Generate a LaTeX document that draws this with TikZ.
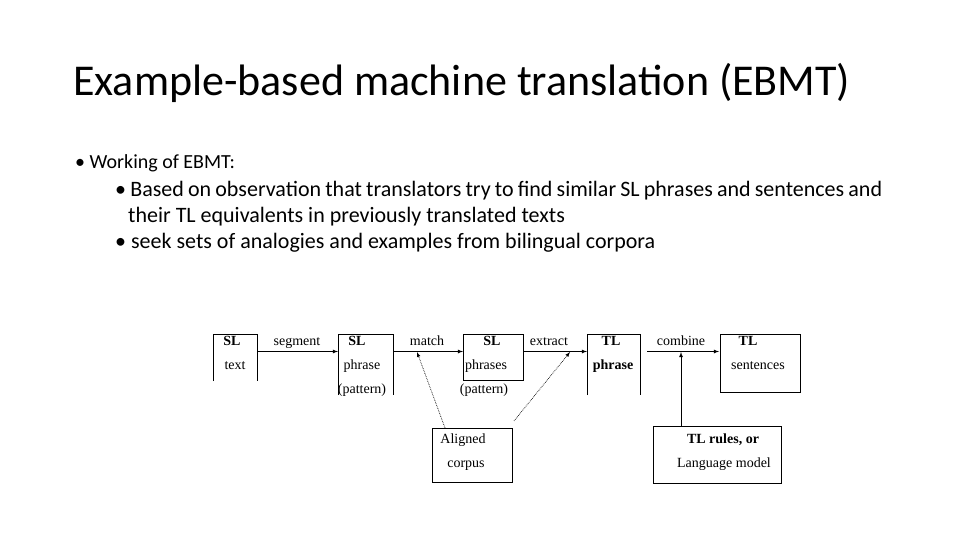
\documentclass[tikz,border=0pt]{standalone}
\usepackage{fontspec}
\setmainfont{Carlito}
\newfontfamily\diagfont{Liberation Serif}
\usetikzlibrary{arrows}
\begin{document}
\begin{tikzpicture}[x=1pt,y=-1pt,>=latex,
  lbl/.style={font=\diagfont\fontsize{14}{15}\selectfont,inner sep=0pt,anchor=base},
  flow/.style={->,line width=0.8pt},
  link/.style={->,line width=0.7pt,densely dotted}]
  \useasboundingbox (0,0) rectangle (960,540);

  % title and bullets
  \node[anchor=base west,inner sep=0pt,font=\fontsize{44}{48}\selectfont] (title) at (73,96) {Example-based machine translation (EBMT)};
  \node[anchor=base west,inner sep=0pt,font=\fontsize{20}{24}\selectfont] (b1) at (75,168) {\textbullet\ Working of EBMT:};
  \node[anchor=north west,inner sep=0pt,text width=767,align=justify,font=\fontsize{22}{26}\selectfont] (b2) at (115,181)
    {\hangindent=13pt\hangafter=1 \textbullet\ Based on observation that translators try to find similar SL phrases and sentences and their TL equivalents in previously translated texts\par
     \textbullet\ seek sets of analogies and examples from bilingual corpora};

  % open boxes
  \draw[line width=0.7pt] (213,381) -- (213,334) -- (257,334) -- (257,381);
  \draw[line width=0.7pt] (338,395) -- (338,334) -- (393,334) -- (393,395);
  \draw[line width=0.7pt] (463,380) rectangle (523,334);
  \draw[line width=0.7pt] (587,395) -- (587,334) -- (640,334) -- (640,395);
  \draw[line width=0.7pt] (720,392) rectangle (800,334);
  \draw[line width=0.7pt] (432,428) rectangle (512,482);
  \draw[line width=0.7pt] (653,426) rectangle (781,483);

  % box texts
  \node[lbl] (sltext) at (232,345) {\textbf{SL}};
  \node[lbl] at (235,369) {text};
  \node[lbl] (slphrase) at (357,345) {\textbf{SL}};
  \node[lbl] at (362,369) {phrase};
  \node[lbl] at (362,393) {(pattern)};
  \node[lbl] (slphrases) at (492,345) {\textbf{SL}};
  \node[lbl] at (486,369) {phrases};
  \node[lbl] at (484,393) {(pattern)};
  \node[lbl] (tlphrase) at (611,345) {\textbf{TL}};
  \node[lbl] at (613,369) {\textbf{phrase}};
  \node[lbl] (tlsent) at (748,345) {\textbf{TL}};
  \node[lbl] at (758,369) {sentences};
  \node[lbl] (corpus) at (463,443) {Aligned};
  \node[lbl] at (466,467) {corpus};
  \node[lbl] (rules) at (723,443) {\textbf{TL rules, or}};
  \node[lbl] at (724,467) {Language model};

  % arrow labels
  \node[lbl] (segment) at (297,345) {segment};
  \node[lbl] (match) at (427,345) {match};
  \node[lbl] (extract) at (549,345) {extract};
  \node[lbl] (combine) at (681,345) {combine};

  \coordinate (s0) at (257,351.5);
  \coordinate (s1) at (338,351.5);
  \coordinate (s2) at (393,351.5);
  \coordinate (s3) at (463,351.5);
  \coordinate (s4) at (523,351.5);
  \coordinate (s5) at (587,351.5);
  \coordinate (s6) at (647,351.5);
  \coordinate (s7) at (719,351.5);
  \coordinate (m1) at (417,352);
  \coordinate (m2) at (570,352);
  \coordinate (m3) at (681,352);
  \draw[flow] (s0) -- (s1);
  \draw[flow] (s2) -- (s3);
  \draw[flow] (s4) -- (s5);
  \draw[flow] (s6) -- (s7);
  \draw[link] (445,428) -- (m1);
  \draw[link] (514,421) -- (m2);
  \draw[flow] (681,426) -- (m3);
\end{tikzpicture}
\end{document}
